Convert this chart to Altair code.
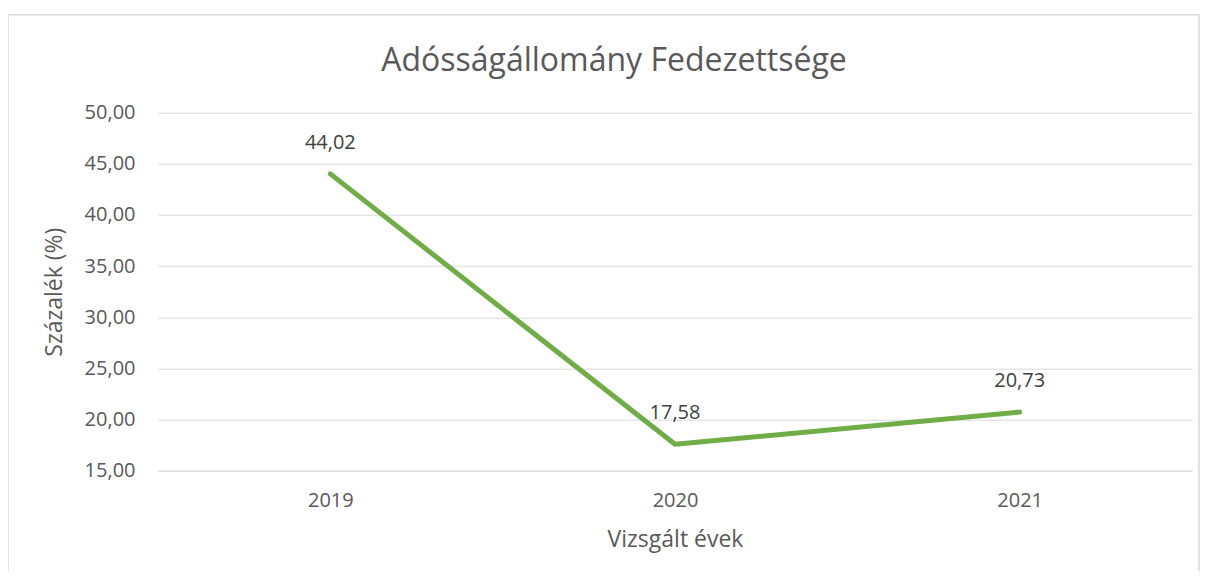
import altair as alt
import pandas as pd

years = ["2019", "2020", "2021"]
values = [44.02, 17.58, 20.73]
y_ticks = [15, 20, 25, 30, 35, 40, 45, 50]
chart_title = "Adósságállomány Fedezettsége"

df = pd.DataFrame({"ev": years, "ertek": values})
one_df = pd.DataFrame({"k": [0]})

FONT = "Open Sans"
GRID = "#D9D9D9"
TXT = "#595959"

x_enc = alt.X(
    "ev:O",
    title="Vizsgált évek",
    axis=alt.Axis(
        labelAngle=0, ticks=False, grid=False, domainColor=GRID, domainWidth=1,
        labelFont=FONT, labelFontSize=20, labelColor=TXT, labelPadding=20,
        titleFont=FONT, titleFontSize=23, titleColor=TXT, titleFontWeight="normal",
        titlePadding=18,
    ),
)
y_enc = alt.Y(
    "ertek:Q",
    title="Százalék (%)",
    scale=alt.Scale(domain=[15, 50], nice=False, zero=False),
    axis=alt.Axis(
        values=y_ticks,
        labelExpr="replace(format(datum.value, '.2f'), '.', ',')",
        ticks=False, domain=False, grid=True, gridColor=GRID, gridWidth=1,
        labelFont=FONT, labelFontSize=20, labelColor=TXT, labelPadding=23,
        titleFont=FONT, titleFontSize=23, titleColor=TXT, titleFontWeight="normal",
        titlePadding=18,
    ),
)

base = alt.Chart(df)

line = base.mark_line(color="#70AD47", strokeWidth=5, strokeCap="round", strokeJoin="round").encode(
    x=x_enc, y=y_enc
)

labels = base.transform_calculate(
    lab="replace(format(datum.ertek, '.2f'), '.', ',')"
).mark_text(font=FONT, fontSize=20, color="#404040", dy=-31).encode(
    x=alt.X("ev:O"), y=alt.Y("ertek:Q"), text="lab:N"
)

frame = alt.Chart(one_df).mark_rect(fillOpacity=0, stroke=GRID, strokeWidth=1.5).encode(
    x=alt.value(-150), x2=alt.value(1041), y=alt.value(-98), y2=alt.value(480)
)

title_mark = alt.Chart(one_df).mark_text(
    font=FONT, fontSize=32, color=TXT, align="center", baseline="middle"
).encode(
    x=alt.value(456), y=alt.value(-52), text=alt.value(chart_title)
)

chart = alt.layer(frame, line, labels, title_mark).properties(
    width=1034,
    height=358,
    autosize=alt.AutoSizeParams(type="none"),
    padding={"left": 150, "top": 104.7, "right": 9, "bottom": 100},
).configure_view(stroke=None)

chart.save("out.html", embed_options={"renderer": "svg", "actions": False})
